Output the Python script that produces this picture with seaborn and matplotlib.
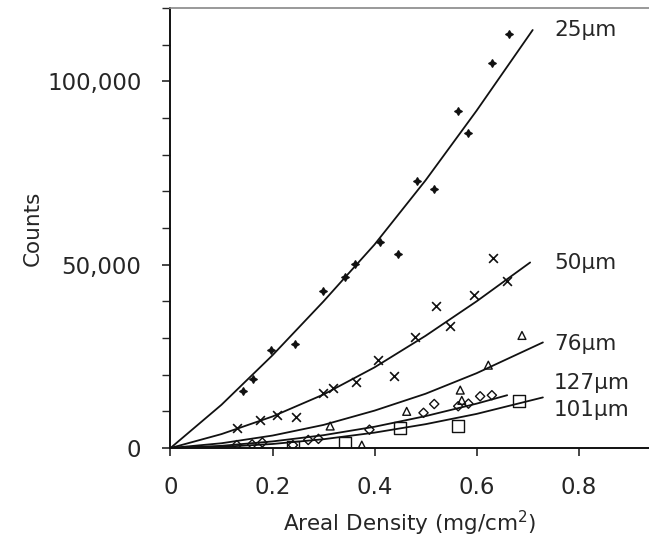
import numpy as np
import pandas as pd
import matplotlib
matplotlib.use("Agg")
import matplotlib.pyplot as plt
from matplotlib.ticker import FuncFormatter, MultipleLocator
import seaborn as sns

# measured points (areal density in mg/cm2, counts in thousands)
x_25 = [0.142, 0.161, 0.198, 0.244, 0.299, 0.342, 0.362, 0.411, 0.445, 0.483, 0.517, 0.564, 0.583, 0.630, 0.664]
y_25 = [15.5, 18.7, 26.8, 28.4, 42.7, 46.7, 50.2, 56.3, 52.9, 72.8, 70.7, 91.8, 85.9, 104.9, 112.8]

x_50 = [0.131, 0.175, 0.208, 0.247, 0.298, 0.319, 0.364, 0.407, 0.439, 0.479, 0.521, 0.547, 0.595, 0.633, 0.659]
y_50 = [5.4, 7.6, 9.0, 8.5, 14.9, 16.5, 18.0, 23.9, 19.6, 30.2, 38.6, 33.4, 41.8, 51.8, 45.6]

x_76 = [0.313, 0.375, 0.463, 0.568, 0.571, 0.623, 0.689]
y_76 = [6.0, 0.8, 10.0, 15.8, 13.0, 22.6, 30.7]

x_127 = [0.13, 0.16, 0.18, 0.24, 0.27, 0.29, 0.39, 0.496, 0.517, 0.564, 0.584, 0.607, 0.630]
y_127 = [0.8, 1.0, 1.5, 0.8, 2.2, 2.5, 5.0, 9.6, 12.0, 11.4, 12.1, 14.1, 14.4]

x_101 = [0.24, 0.342, 0.449, 0.564, 0.684]
y_101 = [0.4, 1.3, 5.5, 6.1, 12.8]

# fitted curves
fx_25 = [0, 0.1, 0.2, 0.3, 0.4, 0.5, 0.6, 0.71]
fy_25 = [0, 11.8, 25.3, 40.0, 55.5, 73.0, 92.0, 114.0]
fx_50 = [0, 0.1, 0.2, 0.3, 0.4, 0.5, 0.6, 0.705]
fy_50 = [0, 3.8, 8.6, 14.6, 22.0, 30.6, 40.0, 50.6]
fx_76 = [0, 0.1, 0.2, 0.3, 0.4, 0.5, 0.6, 0.73]
fy_76 = [0, 1.3, 3.4, 6.3, 10.2, 14.8, 20.4, 28.8]
fx_127 = [0, 0.1, 0.2, 0.3, 0.4, 0.5, 0.6, 0.66]
fy_127 = [0, 0.6, 1.8, 3.5, 5.8, 8.7, 12.1, 14.4]
fx_101 = [0, 0.1, 0.2, 0.3, 0.4, 0.5, 0.6, 0.73]
fy_101 = [0, 0.3, 1.1, 2.4, 4.2, 6.5, 9.3, 13.8]

labels = ["25µm", "50µm", "76µm", "127µm", "101µm"]
label_y = [114.0, 50.5, 28.5, 17.7, 10.3]

sns.set_style("ticks")
plt.rcParams['font.family'] = ['DejaVu Sans']

fig = plt.figure(figsize=(6.49, 5.37), dpi=100)
ax = fig.add_axes([0.2627, 0.1657, 0.7373, 0.8194])

txt = '#262626'
series = [
    (x_25, y_25, fx_25, fy_25, (4, 1, 0), 26, 'k'),
    (x_50, y_50, fx_50, fy_50, 'x', 40, 'k'),
    (x_76, y_76, fx_76, fy_76, '^', 32, 'none'),
    (x_127, y_127, fx_127, fy_127, 'D', 22, 'none'),
    (x_101, y_101, fx_101, fy_101, 's', 75, 'none'),
]

for xs, ys, fxs, fys, mk, sz, fc in series:
    pts = pd.DataFrame({'density': xs, 'counts': np.array(ys) * 1000})
    fit = pd.DataFrame({'density': fxs, 'counts': np.array(fys) * 1000})
    sns.lineplot(data=fit, x='density', y='counts', color='#111111', lw=1.3, ax=ax)
    if fc == 'none':
        sns.scatterplot(data=pts, x='density', y='counts', marker=mk, s=sz,
                        facecolors='none', edgecolor='#111111', linewidth=1.0, ax=ax)
    else:
        sns.scatterplot(data=pts, x='density', y='counts', marker=mk, s=sz,
                        color='#111111', edgecolor='#111111', linewidth=1.2, ax=ax)

for lab, ly in zip(labels, label_y):
    ax.text(0.752, ly * 1000, lab, fontsize=15.5, color=txt, va='center', ha='left')

ax.set_xlim(0, 0.938)
ax.set_ylim(0, 120000)
ax.xaxis.set_major_locator(MultipleLocator(0.2))
ax.yaxis.set_major_locator(MultipleLocator(50000))
ax.yaxis.set_minor_locator(MultipleLocator(10000))
ax.xaxis.set_major_formatter(FuncFormatter(lambda v, p: '0' if v == 0 else f'{v:.1f}'))
ax.yaxis.set_major_formatter(FuncFormatter(lambda v, p: f'{int(v):,}'))
ax.tick_params(axis='both', which='major', length=6, width=1.2, labelsize=16.5,
               labelcolor=txt, direction='out')
ax.tick_params(axis='x', which='major', pad=14)
ax.tick_params(axis='y', which='major', pad=15)
ax.tick_params(axis='y', which='minor', length=6, width=1.0)

ax.set_xlabel('Areal Density (mg/cm$^2$)', fontsize=15.5, color=txt, labelpad=7)
ax.set_ylabel('Counts', fontsize=15.5, color=txt, labelpad=3)

for s in ['left', 'bottom']:
    ax.spines[s].set_linewidth(1.4)
    ax.spines[s].set_color('#111111')
ax.spines['top'].set_color('#888888')
ax.spines['top'].set_linewidth(1.2)
ax.spines['right'].set_visible(False)

fig.savefig('out.png', dpi=100)
